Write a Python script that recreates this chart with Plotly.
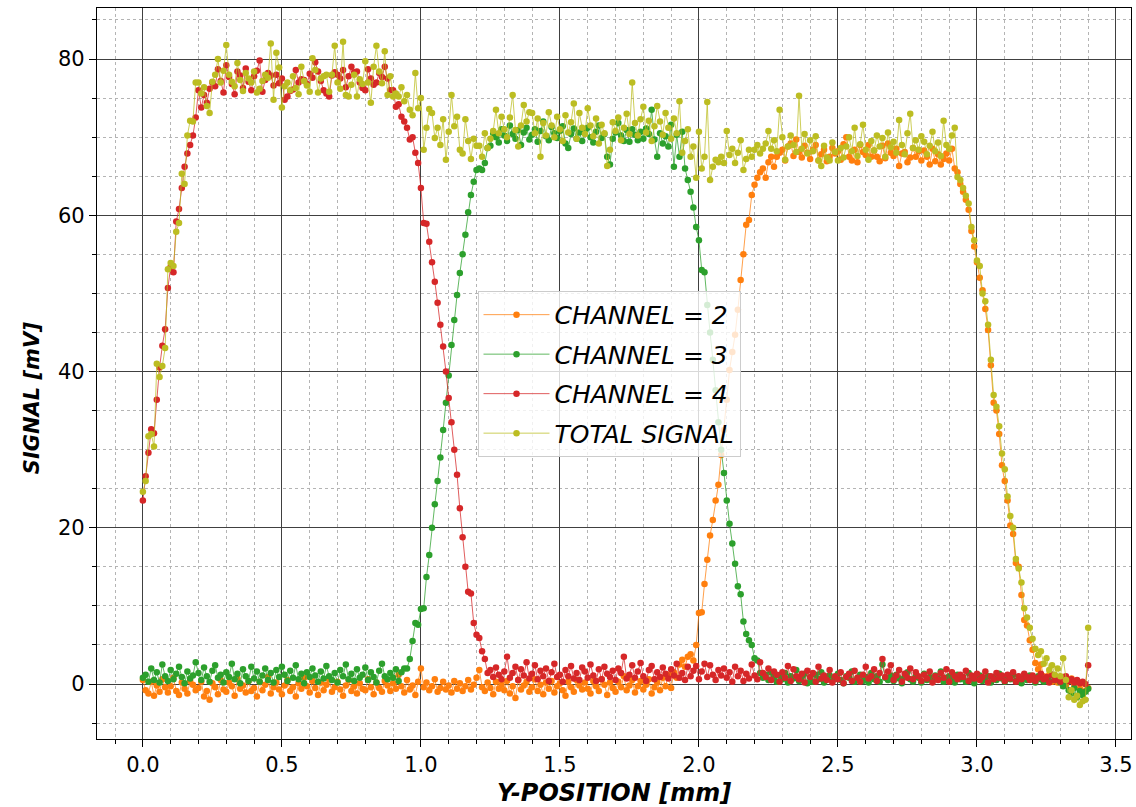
import plotly.graph_objects as go

# Scan step along Y (mm); sample k sits at k * STEP_MM
STEP_MM = 0.01

channel_2 = [
    0.5, -0.8, -1.2, 0.3, -1.5, -0.2, -1.0, 0.6, -0.4, -1.1,
    -0.3, 0.8, -0.9, -1.4, 0.2, -0.6, -1.2, 0.4, -0.1, -0.8,
    -0.5, 0.3, -1.6, -0.9, -2.0, 0.1, -0.4, -1.3, 0.5, -0.7,
    -1.0, 0.2, -0.3, -1.5, 0.7, -0.6, -0.2, -1.1, 0.4, -0.9,
    -0.5, -1.6, 0.3, -0.8, -0.1, 0.9, -1.2, -0.4, 0.2, -0.7,
    -1.3, -0.2, 0.5, -0.9, -0.4, -1.6, 0.1, -0.6, 0.8, -0.3,
    -1.1, 0.4, -0.5, -1.4, 0.2, -0.8, -0.1, 0.6, -1.0, -0.4,
    0.3, -0.7, -1.5, -0.2, 0.5, -0.9, -0.3, -1.2, 0.1, -0.6,
    -0.8, 0.6, -0.4, -1.3, 0.2, -0.5, -1.0, 0.4, -0.2, -0.9,
    0.1, -0.6, 1.2, -0.3, -1.1, 0.5, -0.7, -0.2, -1.4, 0.3,
    2.0, -0.4, 0.2, -0.8, -0.3, 0.6, -1.0, -0.5, 0.3, -0.7,
    -0.2, -1.1, 0.4, -0.6, 0.1, -0.9, -0.3, 0.5, -0.7, -0.1,
    0.8, 1.8, -0.4, -0.9, 0.2, -0.5, -1.3, 0.3, -0.6, -0.1,
    -0.8, 0.4, -1.2, -0.3, -1.8, 0.5, -0.7, -0.2, 0.3, -1.0,
    -0.4, 0.6, -0.9, -0.1, -1.3, 0.2, -0.6, 0.4, -1.1, -0.3,
    0.1, -0.8, -1.5, 0.3, -0.4, -1.0, 0.5, -0.2, -0.7, 0.2,
    -0.6, -1.2, 0.4, -0.3, -0.9, 0.6, -0.1, -1.4, 0.2, -0.5,
    -1.0, 0.3, -0.4, 1.0, -0.8, -0.2, 0.5, -1.1, -0.3, 0.4,
    -0.7, -0.1, 0.6, -1.2, -0.4, 0.2, -0.8, 0.8, -0.3, 1.2,
    -0.5, 1.5, 0.8, 2.5, 3.1, 2.2, 3.5, 3.8, 3.0, 5.0,
    9.1, 9.2, 12.8, 15.9, 19.0, 21.0, 23.5, 25.5, 29.3, 32.5,
    36.4, 40.2, 42.5, 44.7, 47.9, 51.7, 55.0, 58.8, 59.4, 62.6,
    63.9, 64.8, 65.5, 66.0, 64.8, 66.8, 67.5, 66.2, 67.5, 68.0,
    68.4, 67.0, 68.8, 69.2, 67.6, 69.7, 68.1, 67.4, 68.9, 68.0,
    67.2, 68.4, 69.0, 67.0, 67.8, 68.4, 66.9, 67.5, 68.6, 67.9,
    68.2, 67.1, 69.1, 70.0, 67.5, 67.0, 68.4, 66.8, 69.0, 68.1,
    67.7, 69.0, 67.5, 68.3, 67.5, 66.9, 68.9, 67.3, 69.2, 68.0,
    67.6, 68.5, 66.3, 67.9, 68.1, 66.8, 67.4, 68.6, 67.5, 68.2,
    67.0, 68.3, 67.5, 66.5, 68.5, 66.9, 67.8, 66.5, 67.2, 67.9,
    67.0, 68.5, 66.0, 65.5, 64.0, 63.0, 62.0, 60.7, 58.0, 56.0,
    54.0, 52.0, 50.4, 48.0, 45.3, 40.8, 36.0, 35.0, 32.0, 28.0,
    26.0, 23.5, 20.3, 19.2, 15.5, 15.0, 11.4, 8.2, 7.5, 5.6,
    4.4, 2.7, 1.9, 2.5, 1.0, 0.6, 1.2, 0.3, 0.8, 0.2,
    0.5, 0.9, -0.2, 0.4, 0.7, -0.1, 0.3, -0.6, 0.1, -0.9,
    -0.5,
]

channel_3 = [
    0.8, 1.2, 0.3, 2.0, 0.5, 1.5, 0.2, 2.5, 1.0, 0.4,
    1.8, 0.6, 1.3, 2.2, 0.9, 0.1, 1.6, 0.7, 1.1, 2.8,
    1.4, 0.5, 2.1, 1.0, 0.3, 1.7, 2.4, 0.8, 1.2, 0.2,
    1.5, 0.9, 2.6, 0.6, 1.3, 0.1, 1.9, 1.0, 0.4, 2.2,
    0.7, 1.6, 0.3, 1.1, 2.0, 0.5, 1.4, 0.2, 1.8, 0.9,
    2.2, 1.2, 0.4, 1.7, 0.8, 2.4, 0.6, 1.3, 0.1, 1.5,
    0.9, 2.0, 1.1, 0.3, 1.6, 0.7, 2.3, 1.0, 0.5, 1.4,
    0.2, 1.8, 1.0, 2.5, 0.6, 1.3, 0.4, 1.9, 0.8, 1.2,
    2.1, 0.5, 1.5, 0.9, 0.2, 1.7, 2.6, 1.0, 0.6, 1.4,
    0.8, 1.9, 0.4, 1.5, 2.0, 2.0, 3.2, 5.5, 7.8, 7.6,
    9.6, 9.7, 13.7, 16.5, 20.0, 23.0, 26.0, 29.0, 32.5, 36.0,
    39.5, 43.4, 46.6, 49.8, 52.6, 55.0, 57.5, 60.4, 62.6, 64.3,
    65.8, 66.0, 65.8, 66.7, 68.6, 68.9, 70.5, 70.0, 69.3, 71.0,
    70.2, 69.5, 71.5, 70.4, 69.8, 70.9, 69.0, 70.6, 71.2, 69.7,
    70.3, 71.0, 69.4, 70.8, 72.0, 70.1, 69.6, 71.3, 70.5, 69.9,
    70.8, 71.4, 69.2, 68.6, 70.4, 71.1, 69.8, 70.6, 69.5, 70.9,
    71.2, 70.0, 69.3, 70.7, 71.5, 69.9, 70.4, 67.5, 66.5, 69.8,
    70.6, 71.8, 70.2, 69.5, 70.9, 69.4, 71.0, 70.3, 69.6, 70.7,
    69.8, 71.1, 70.4, 73.5, 69.7, 67.5, 70.5, 69.2, 70.1, 68.8,
    71.6, 66.2, 70.3, 67.5, 70.7, 66.0, 64.5, 63.0, 61.0, 58.5,
    56.8, 53.0, 52.7, 48.5, 45.0, 41.5, 37.6, 33.5, 30.0, 27.0,
    23.5, 20.5, 18.0, 15.4, 12.5, 11.5, 8.0, 6.4, 5.6, 5.0,
    3.3, 3.0, 1.4, 0.8, 1.2, 0.5, 1.5, 0.9, 0.3, 1.1,
    0.6, 1.4, 0.2, 1.0, 0.7, 1.8, 0.4, 0.9, 1.3, 0.1,
    0.8, 0.3, 1.2, 0.6, 1.5, 0.2, 0.9, 1.1, 0.4, 0.7,
    1.3, 0.5, 0.1, 1.0, 0.8, 1.6, 0.3, 0.7, 1.2, 0.4,
    0.9, 0.2, 1.4, 0.6, 1.0, 0.3, 2.5, 0.8, 0.5, 1.1,
    0.4, 1.2, 0.7, 0.1, 0.9, 1.5, 0.6, 0.3, 1.0, 0.8,
    0.2, 1.3, 0.5, 0.9, 0.4, 1.1, 0.7, 1.6, 0.3, 0.8,
    1.0, 0.5, 0.2, 1.2, 0.6, 0.9, 0.3, 1.4, 0.7, 0.1,
    0.8, 1.1, 0.4, 0.6, 1.0, 0.2, 0.9, 0.5, 1.3, 0.7,
    0.3, 1.0, 0.6, 1.2, 0.4, 0.8, 0.1, 0.9, 0.5, 1.1,
    0.7, 0.2, 1.0, 0.6, 0.3, 0.8, 0.4, 1.2, 0.5, 0.9,
    0.2, -0.3, 0.4, -0.8, -1.2, -0.5, -1.7, -0.9, -1.4, -1.0,
    -0.6,
]

channel_4 = [
    23.5, 26.6, 29.6, 32.6, 32.1, 36.4, 40.5, 43.3, 45.4, 50.7,
    53.4, 52.7, 59.2, 60.8, 63.5, 66.2, 67.9, 69.0, 70.2, 72.5,
    76.0, 73.8, 75.4, 74.4, 76.2, 77.0, 76.5, 78.7, 77.2, 75.7,
    79.2, 77.7, 76.8, 75.5, 78.4, 77.9, 76.3, 78.8, 77.1, 76.0,
    77.8, 78.5, 79.8, 75.8, 77.3, 78.2, 77.9, 76.6, 78.0, 76.9,
    77.5, 74.8, 75.2, 75.9, 76.1, 78.6, 77.0, 77.4, 77.3, 76.8,
    78.1, 77.6, 79.6, 78.4, 77.2, 76.0, 75.6, 75.2, 77.9, 78.3,
    78.0, 77.5, 78.6, 76.4, 77.8, 79.0, 78.3, 78.4, 77.0, 76.3,
    76.0, 78.7, 77.5, 76.7, 77.0, 78.2, 77.7, 79.0, 77.5, 76.0,
    76.0, 73.9, 74.2, 72.6, 72.0, 71.2, 69.7, 70.0, 68.0, 66.7,
    63.5, 59.0, 58.9, 56.6, 54.0, 51.5, 48.8, 46.0, 43.2, 40.0,
    36.6, 33.5, 30.0, 26.8, 22.5, 18.8, 15.0, 11.8, 11.6, 7.8,
    6.3, 5.9, 4.2, 3.2, 1.4, 1.8, 0.9, 2.1, 1.2, 0.6,
    1.6, 3.5, 0.8, 1.4, 2.2, 0.5, 1.9, 1.1, 2.8, 0.7,
    1.3, 2.4, 0.6, 1.7, 1.0, 2.0, 0.4, 1.5, 2.6, 0.9,
    1.2, 0.3, 1.8, 1.0, 2.3, 0.7, 1.4, 0.5, 2.1, 1.6,
    0.8, 2.5, 1.1, 0.4, 1.9, 0.6, 2.2, 1.3, 0.9, 1.7,
    0.5, 2.0, 1.4, 3.5, 0.7, 1.2, 2.4, 0.8, 1.6, 2.7,
    1.0, 0.4, 1.8, 2.3, 0.6, 1.5, 0.9, 2.1, 1.3, 0.7,
    1.9, 1.1, 2.6, 0.8, 1.4, 0.5, 2.2, 1.0, 1.7, 2.3,
    0.6, 1.6, 2.6, 0.9, 2.4, 1.2, 0.5, 1.8, 1.1, 2.0,
    0.8, 1.5, 0.3, 2.2, 1.0, 1.7, 0.4, 1.3, 0.7, 2.5,
    1.1, 0.6, 2.8, 1.4, 0.9, 2.0, 0.5, 1.6, 1.2, 0.3,
    1.5, 0.8, 2.3, 0.4, 1.9, 1.0, 0.6, 1.3, 0.2, 1.7,
    0.9, 1.4, 0.3, 2.2, 0.7, 1.1, 0.5, 1.8, 0.2, 1.0,
    0.6, 1.5, 0.1, 0.9, 1.3, 0.4, 1.7, 0.8, 0.3, 1.2,
    2.2, 0.7, 1.0, 1.9, 0.4, 1.4, 3.2, 0.9, 1.6, 2.4,
    0.5, 1.1, 1.8, 0.3, 1.3, 0.8, 2.0, 0.6, 1.5, 1.0,
    0.4, 1.2, 0.7, 1.6, 0.2, 1.0, 0.5, 1.4, 0.8, 1.9,
    0.3, 1.5, 1.0, 0.6, 1.2, 0.9, 1.7, 0.4, 1.1, 0.7,
    1.3, 0.5, 0.9, 1.6, 0.2, 1.0, 0.6, 1.4, 0.8, 1.1,
    0.4, 1.2, 0.7, 1.5, 0.3, 1.0, 0.6, 1.3, 0.9, 0.5,
    1.1, 0.4, 0.8, 1.3, 0.6, 0.9, 0.2, 1.2, 0.5, 0.8,
    0.3, 0.7, 1.0, 0.4, 0.6, 0.2, 0.5, 0.1, 0.3, 0.0,
    2.4,
]

total_signal = [
    24.6, 26.0, 31.7, 32.0, 30.4, 41.0, 39.3, 40.7, 43.0, 53.1,
    53.9, 53.5, 57.9, 59.0, 65.3, 64.0, 70.2, 72.1, 72.0, 77.0,
    77.0, 75.6, 76.4, 74.0, 73.1, 77.1, 78.0, 80.0, 77.0, 78.5,
    81.8, 78.0, 77.1, 76.5, 79.5, 77.3, 75.9, 78.2, 77.5, 77.0,
    78.4, 75.7, 76.2, 77.2, 78.0, 77.6, 82.0, 74.8, 80.8, 78.9,
    73.8, 76.5, 77.0, 76.0, 77.8, 76.3, 75.5, 79.0, 77.2, 76.6,
    75.8, 80.1, 78.6, 75.7, 77.5, 77.8, 78.0, 75.8, 78.0, 81.7,
    77.0, 76.2, 82.2, 75.4, 75.2, 76.7, 78.0, 75.2, 77.4, 76.8,
    79.7, 77.0, 74.4, 79.0, 81.7, 78.4, 76.9, 81.0, 75.4, 77.8,
    75.2, 75.6, 75.2, 76.4, 74.6, 75.4, 73.5, 72.8, 78.2, 73.7,
    75.0, 68.4, 71.2, 73.6, 73.1, 69.9, 71.2, 69.0, 72.3, 67.1,
    70.7, 75.4, 71.4, 72.6, 68.4, 67.9, 72.3, 69.5, 67.2, 69.8,
    68.9, 68.9, 67.5, 70.5, 68.6, 69.8, 70.8, 73.5, 70.5, 72.6,
    71.0, 70.0, 72.5, 75.4, 70.9, 68.8, 71.5, 74.1, 72.0, 73.2,
    73.1, 70.5, 72.4, 67.5, 71.8, 70.2, 73.2, 71.5, 70.0, 72.6,
    71.0, 69.5, 72.8, 70.6, 71.9, 74.3, 69.8, 73.1, 71.2, 70.4,
    73.7, 71.5, 70.1, 72.4, 69.2, 71.6, 70.5, 66.3, 68.4, 71.9,
    70.8, 72.5, 69.6, 71.2, 73.0, 70.4, 77.0, 71.8, 70.2, 72.3,
    73.9, 70.6, 72.1, 69.5, 71.4, 74.0, 72.0, 70.3, 73.1, 71.2,
    69.8, 72.4, 70.5, 74.6, 68.0, 69.5, 71.0, 67.5, 68.8, 64.8,
    70.7, 66.0, 67.5, 74.5, 64.5, 66.2, 67.1, 66.8, 67.5, 66.7,
    70.8, 67.7, 68.5, 66.7, 68.0, 69.6, 65.8, 67.2, 68.4, 67.5,
    68.4, 69.0, 67.9, 68.5, 69.2, 70.8, 68.5, 69.6, 68.2, 73.5,
    70.0, 67.1, 68.8, 70.2, 69.0, 68.1, 75.3, 68.5, 70.4, 67.9,
    69.6, 68.2, 70.1, 67.0, 66.3, 68.9, 67.4, 67.0, 69.3, 68.1,
    67.0, 68.6, 67.4, 68.8, 70.0, 68.2, 71.2, 67.6, 69.1, 71.6,
    68.4, 67.1, 69.5, 68.3, 70.2, 68.8, 69.9, 67.5, 70.6, 68.7,
    69.4, 68.0, 72.2, 69.0, 67.8, 70.5, 73.0, 68.6, 69.6, 68.4,
    70.1, 69.4, 67.8, 68.9, 70.7, 68.2, 69.3, 67.6, 72.1, 69.0,
    68.5, 70.2, 71.2, 64.9, 64.5, 63.5, 62.5, 61.5, 58.5, 56.8,
    54.2, 53.5, 50.0, 49.0, 46.0, 41.5, 37.0, 35.5, 33.0, 29.5,
    27.5, 24.0, 21.5, 20.0, 16.0, 14.8, 13.0, 9.7, 8.5, 7.2,
    5.8, 4.5, 3.7, 4.2, 2.6, 3.3, 1.8, 2.4, 1.2, 2.0,
    1.0, 3.3, 0.5, -1.7, -0.8, -2.0, -1.5, -2.7, -2.2, -2.0,
    7.2,
]

x_tick_values = [0.0, 0.5, 1.0, 1.5, 2.0, 2.5, 3.0, 3.5]
x_tick_labels = ["0.0", "0.5", "1.0", "1.5", "2.0", "2.5", "3.0", "3.5"]
y_tick_values = [0, 20, 40, 60, 80]
y_tick_labels = ["0", "20", "40", "60", "80"]

series = [
    ("CHANNEL = 2", channel_2, "#ff7f0e", "rgba(255,127,14,0.75)"),
    ("CHANNEL = 3", channel_3, "#2ca02c", "rgba(44,160,44,0.75)"),
    ("CHANNEL = 4", channel_4, "#d62728", "rgba(214,39,40,0.75)"),
    ("TOTAL SIGNAL", total_signal, "#bcbd22", "rgba(188,189,34,0.75)"),
]


def positions(values):
    return [round(k * STEP_MM, 2) for k in range(len(values))]


FONT = "DejaVu Sans"

fig = go.Figure()
for name, values, color, line_color in series:
    fig.add_trace(go.Scatter(
        x=positions(values), y=values, name=name, legendgroup=name,
        mode="lines+markers",
        line=dict(color=line_color, width=1),
        marker=dict(color=color, size=6.5, line=dict(width=0)),
    ))

major_grid = "#404040"
minor_grid = "#b4b4b4"
title_font = dict(family=FONT, color="black", weight="bold", style="italic")

fig.update_layout(
    width=1136, height=807,
    margin=dict(l=97, r=3, t=8, b=68),
    paper_bgcolor="white", plot_bgcolor="white",
    font=dict(family=FONT, size=21, color="black"),
    showlegend=True,
    legend=dict(
        x=0.368, y=0.613, xanchor="left", yanchor="top",
        bgcolor="rgba(255,255,255,0.8)", bordercolor="#cccccc", borderwidth=1,
        font=dict(family=FONT, size=25, color="black", style="italic"),
        tracegroupgap=4, itemwidth=66,
    ),
    xaxis=dict(
        range=[-0.165, 3.554],
        tickmode="array", tickvals=x_tick_values, ticktext=x_tick_labels,
        ticks="outside", ticklen=7, tickwidth=1, tickcolor="black",
        showline=True, mirror=True, linecolor="black", linewidth=1.2,
        showgrid=True, gridcolor=major_grid, gridwidth=1, zeroline=False,
        minor=dict(dtick=0.1, tick0=0, ticks="outside", ticklen=4, tickcolor="black",
                   showgrid=True, gridcolor=minor_grid, griddash="dot", gridwidth=1),
    ),
    yaxis=dict(
        range=[-7.04, 86.53],
        tickmode="array", tickvals=y_tick_values, ticktext=y_tick_labels,
        ticks="outside", ticklen=7, tickwidth=1, tickcolor="black",
        showline=True, mirror=True, linecolor="black", linewidth=1.2,
        showgrid=True, gridcolor=major_grid, gridwidth=1, zeroline=False,
        minor=dict(dtick=5, tick0=0, ticks="outside", ticklen=4, tickcolor="black",
                   showgrid=True, gridcolor=minor_grid, griddash="dot", gridwidth=1),
    ),
    annotations=[
        dict(text="Y-POSITION [mm]", xref="paper", yref="paper",
             x=0.5, y=-0.0745, xanchor="center", yanchor="middle",
             showarrow=False, font=dict(size=24, **title_font)),
        dict(text="SIGNAL [mV]", xref="paper", yref="paper",
             x=-0.063, y=0.466, xanchor="center", yanchor="middle",
             textangle=-90, showarrow=False, font=dict(size=21, **title_font)),
    ],
)

fig.write_html("out.html")
